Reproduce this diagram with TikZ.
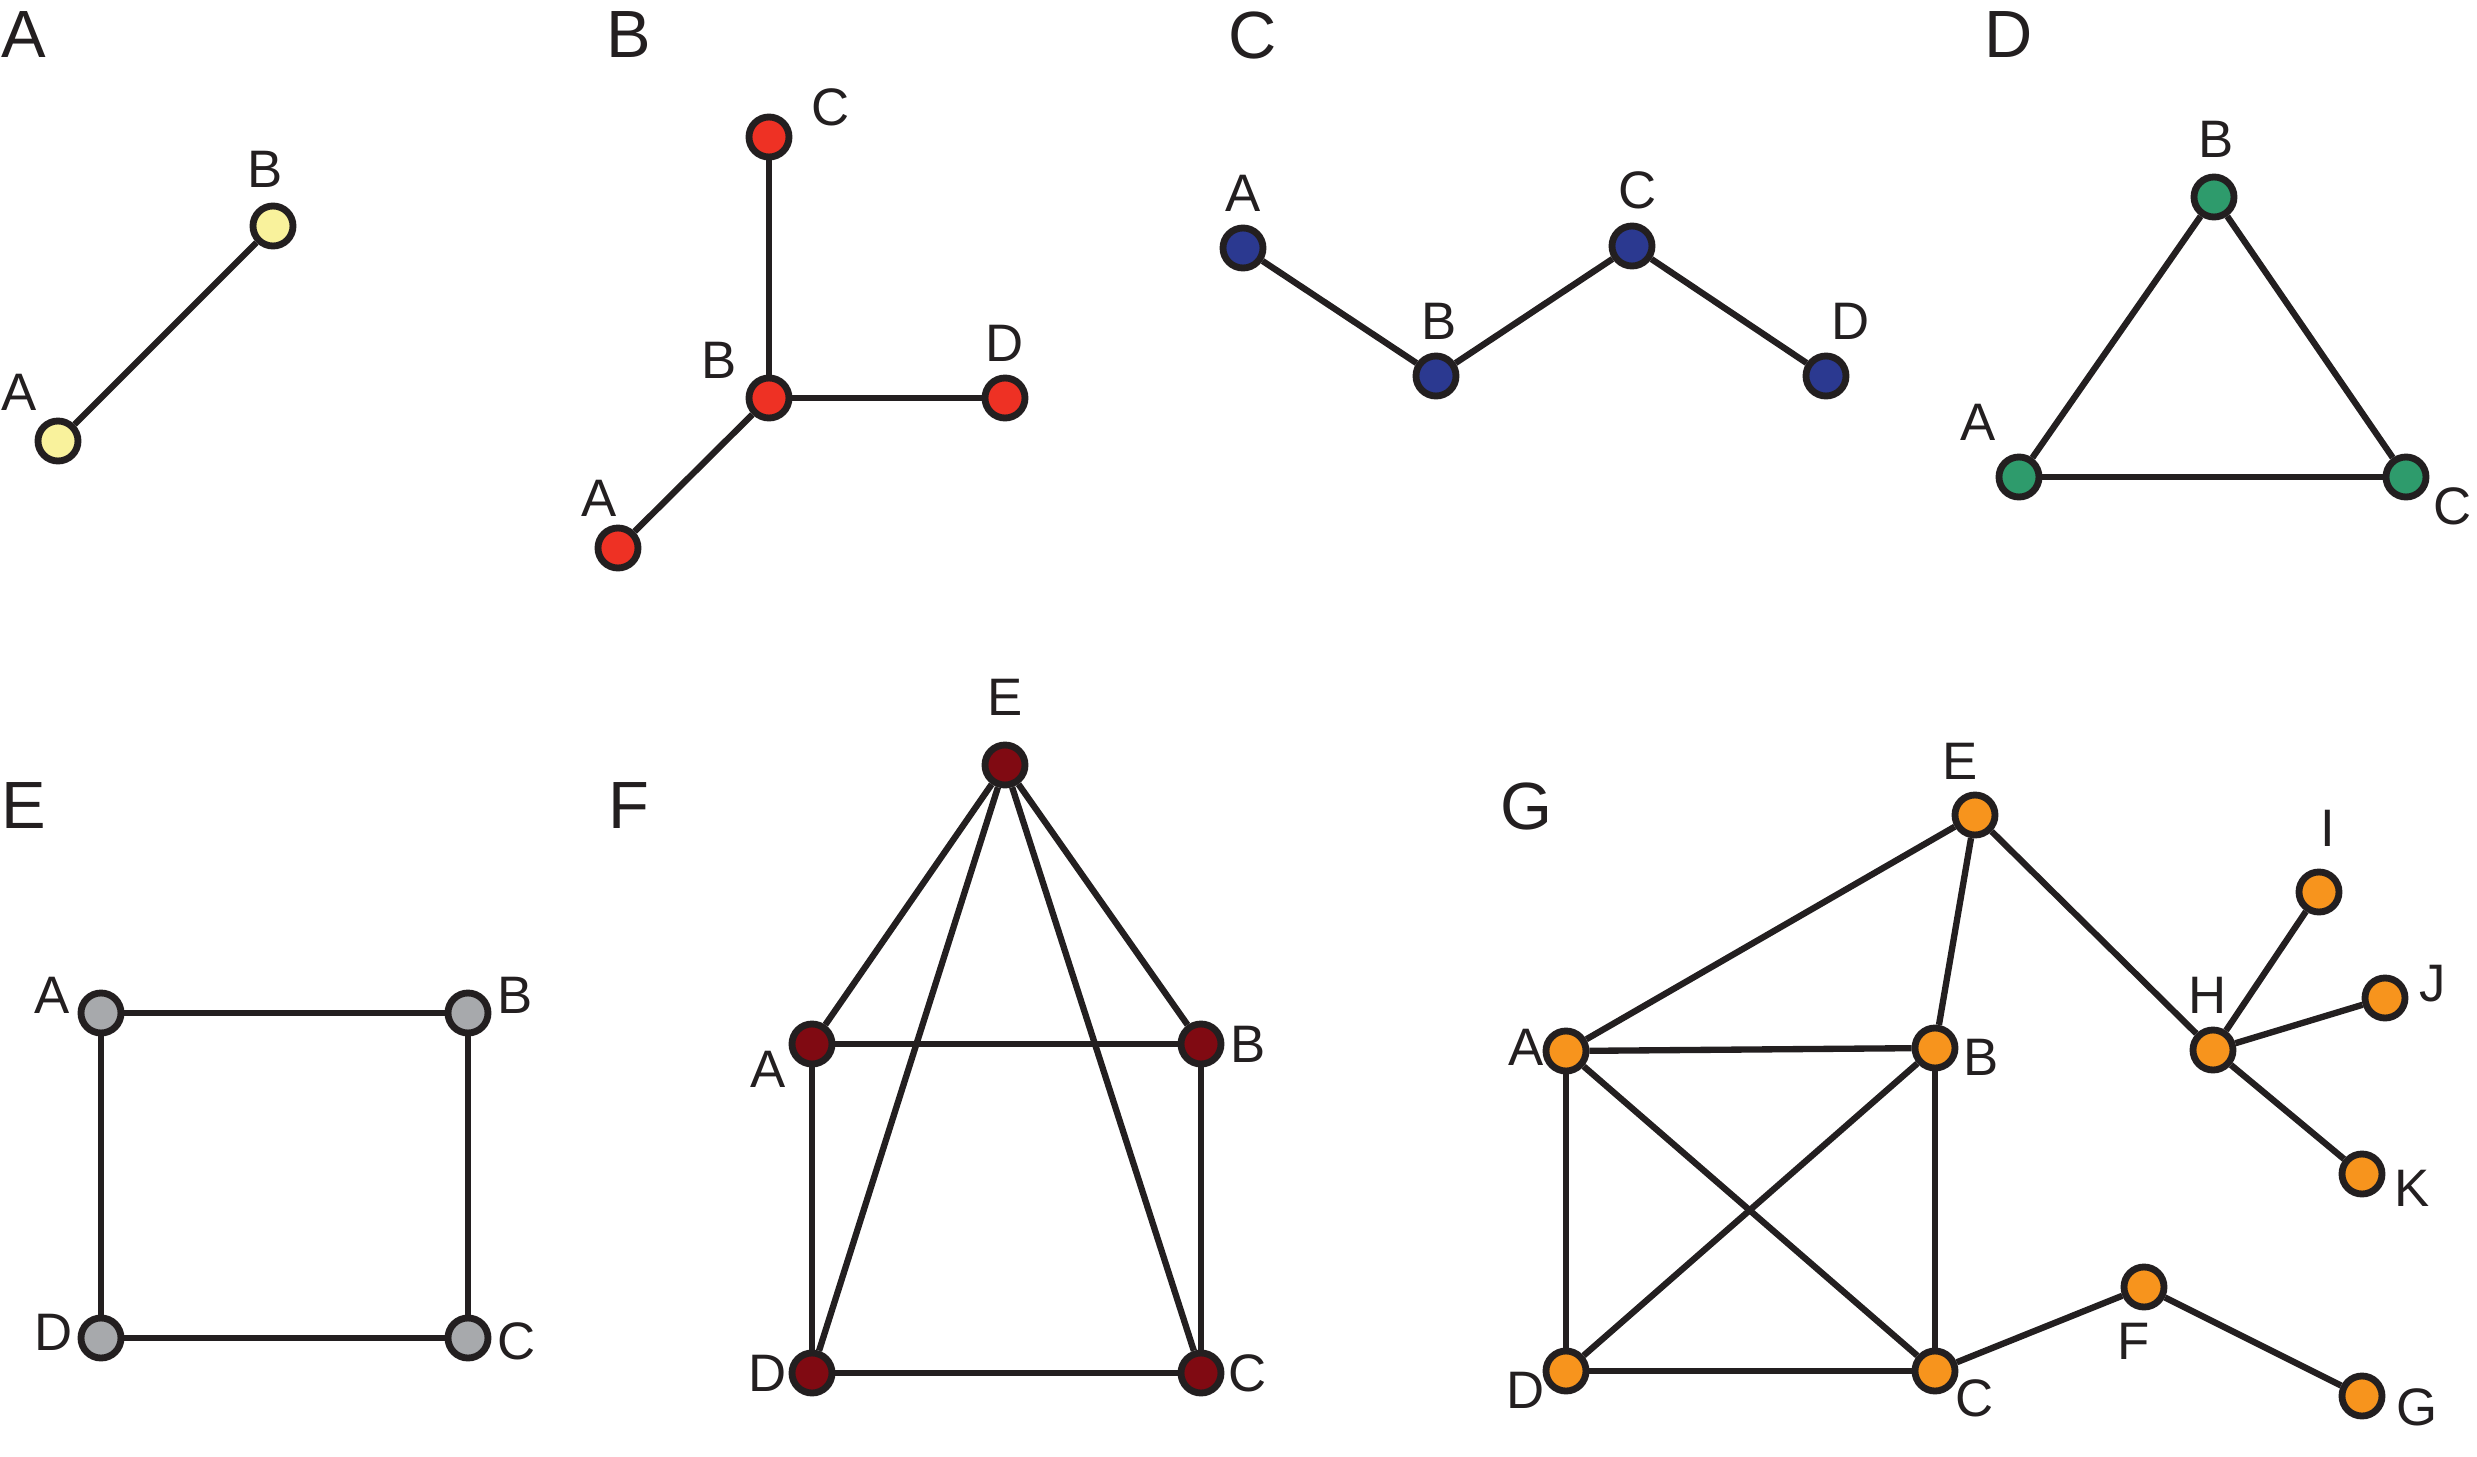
\documentclass[tikz,border=0pt]{standalone}
\usepackage{fontspec}
\setmainfont{Liberation Sans}
\usepackage{xcolor}
\usetikzlibrary{positioning}

\definecolor{ink}{HTML}{231F20}
\definecolor{ptYellow}{HTML}{F9F29C}
\definecolor{ptRed}{HTML}{EE3124}
\definecolor{ptBlue}{HTML}{2B3990}
\definecolor{ptGreen}{HTML}{2E9B6C}
\definecolor{ptGray}{HTML}{A7A9AC}
\definecolor{ptMaroon}{HTML}{800A12}
\definecolor{ptOrange}{HTML}{F7941D}

\begin{document}
\begin{tikzpicture}[
  x=0.01cm, y=-0.01cm,
  vtx/.style={circle, draw=ink, line width=1.95pt, minimum size=0.40cm, inner sep=0pt},
  yel/.style={vtx, fill=ptYellow},
  red/.style={vtx, fill=ptRed},
  blu/.style={vtx, fill=ptBlue},
  grn/.style={vtx, fill=ptGreen},
  gry/.style={vtx, fill=ptGray},
  mar/.style={vtx, fill=ptMaroon},
  org/.style={vtx, fill=ptOrange},
  lnk/.style={draw=ink, line width=1.8pt},
  lbl/.style={font=\fontsize{15}{18}\selectfont, text=ink, inner sep=0pt},
  pnl/.style={font=\fontsize{19}{23}\selectfont, text=ink, inner sep=0pt}
]
  \useasboundingbox (0,0) rectangle (2477,1457);

  % panel A
  \node[pnl] (pA) at (24,35) {A};
  \node[yel] (aA) at (58,441) {};
  \node[yel] (aB) at (273,226) {};
  \node[lbl] (aAl) at (19,392) {A};
  \node[lbl] (aBl) at (265,169) {B};
  \draw[lnk] (aA) -- (aB);

  % panel B
  \node[pnl] (pB) at (629,35) {B};
  \node[red] (bC) at (769,137) {};
  \node[red] (bB) at (769,398) {};
  \node[red] (bD) at (1005,398) {};
  \node[red] (bA) at (618,548) {};
  \node[lbl] (bCl) at (831,107) {C};
  \node[lbl] (bBl) at (719,360) {B};
  \node[lbl] (bDl) at (1005,343) {D};
  \node[lbl] (bAl) at (599,498) {A};
  \draw[lnk] (bC) -- (bB);
  \draw[lnk] (bB) -- (bD);
  \draw[lnk] (bB) -- (bA);

  % panel C
  \node[pnl] (pC) at (1253,35) {C};
  \node[blu] (cA) at (1243,248) {};
  \node[blu] (cB) at (1436,376) {};
  \node[blu] (cC) at (1632,246) {};
  \node[blu] (cD) at (1826,376) {};
  \node[lbl] (cAl) at (1243,193) {A};
  \node[lbl] (cBl) at (1439,321) {B};
  \node[lbl] (cCl) at (1638,190) {C};
  \node[lbl] (cDl) at (1851,321) {D};
  \draw[lnk] (cA) -- (cB);
  \draw[lnk] (cB) -- (cC);
  \draw[lnk] (cC) -- (cD);

  % panel D
  \node[pnl] (pD) at (2009,35) {D};
  \node[grn] (dB) at (2214,197) {};
  \node[grn] (dA) at (2019,477) {};
  \node[grn] (dC) at (2406,477) {};
  \node[lbl] (dBl) at (2216,139) {B};
  \node[lbl] (dAl) at (1978,422) {A};
  \node[lbl] (dCl) at (2453,506) {C};
  \draw[lnk] (dA) -- (dB);
  \draw[lnk] (dB) -- (dC);
  \draw[lnk] (dA) -- (dC);

  % panel E
  \node[pnl] (pE) at (24,806) {E};
  \node[gry] (eA) at (101,1013) {};
  \node[gry] (eB) at (468,1013) {};
  \node[gry] (eD) at (101,1338) {};
  \node[gry] (eC) at (468,1338) {};
  \node[lbl] (eAl) at (52,995) {A};
  \node[lbl] (eBl) at (515,995) {B};
  \node[lbl] (eDl) at (54,1332) {D};
  \node[lbl] (eCl) at (517,1341) {C};
  \draw[lnk] (eA) -- (eB);
  \draw[lnk] (eB) -- (eC);
  \draw[lnk] (eC) -- (eD);
  \draw[lnk] (eD) -- (eA);

  % panel F
  \node[pnl] (pF) at (629,806) {F};
  \node[mar] (fE) at (1005,765) {};
  \node[mar] (fA) at (812,1044) {};
  \node[mar] (fB) at (1201,1044) {};
  \node[mar] (fD) at (812,1373) {};
  \node[mar] (fC) at (1201,1373) {};
  \node[lbl] (fEl) at (1005,697) {E};
  \node[lbl] (fAl) at (768,1069) {A};
  \node[lbl] (fBl) at (1248,1044) {B};
  \node[lbl] (fDl) at (768,1373) {D};
  \node[lbl] (fCl) at (1248,1373) {C};
  \draw[lnk] (fE) -- (fA);
  \draw[lnk] (fE) -- (fB);
  \draw[lnk] (fE) -- (fD);
  \draw[lnk] (fE) -- (fC);
  \draw[lnk] (fA) -- (fB);
  \draw[lnk] (fA) -- (fD);
  \draw[lnk] (fB) -- (fC);
  \draw[lnk] (fD) -- (fC);

  % panel G
  \node[pnl] (pG) at (1526,806) {G};
  \node[org] (gE) at (1975,815) {};
  \node[org] (gA) at (1566,1051) {};
  \node[org] (gB) at (1935,1048) {};
  \node[org] (gD) at (1566,1371) {};
  \node[org] (gC) at (1935,1371) {};
  \node[org] (gH) at (2213,1050) {};
  \node[org] (gI) at (2319,892) {};
  \node[org] (gJ) at (2385,998) {};
  \node[org] (gK) at (2362,1174) {};
  \node[org] (gF) at (2144,1287) {};
  \node[org] (gG) at (2362,1396) {};
  \node[lbl] (gEl) at (1960,761) {E};
  \node[lbl] (gAl) at (1526,1047) {A};
  \node[lbl] (gBl) at (1981,1057) {B};
  \node[lbl] (gDl) at (1526,1390) {D};
  \node[lbl] (gCl) at (1975,1398) {C};
  \node[lbl] (gHl) at (2208,995) {H};
  \node[lbl] (gIl) at (2328,828) {I};
  \node[lbl] (gJl) at (2433,984) {J};
  \node[lbl] (gKl) at (2412,1188) {K};
  \node[lbl] (gFl) at (2134,1341) {F};
  \node[lbl] (gGl) at (2417,1407) {G};
  \draw[lnk] (gE) -- (gA);
  \draw[lnk] (gE) -- (gB);
  \draw[lnk] (gE) -- (gH);
  \draw[lnk] (gA) -- (gB);
  \draw[lnk] (gA) -- (gD);
  \draw[lnk] (gA) -- (gC);
  \draw[lnk] (gB) -- (gD);
  \draw[lnk] (gB) -- (gC);
  \draw[lnk] (gD) -- (gC);
  \draw[lnk] (gC) -- (gF);
  \draw[lnk] (gF) -- (gG);
  \draw[lnk] (gH) -- (gI);
  \draw[lnk] (gH) -- (gJ);
  \draw[lnk] (gH) -- (gK);
\end{tikzpicture}
\end{document}
